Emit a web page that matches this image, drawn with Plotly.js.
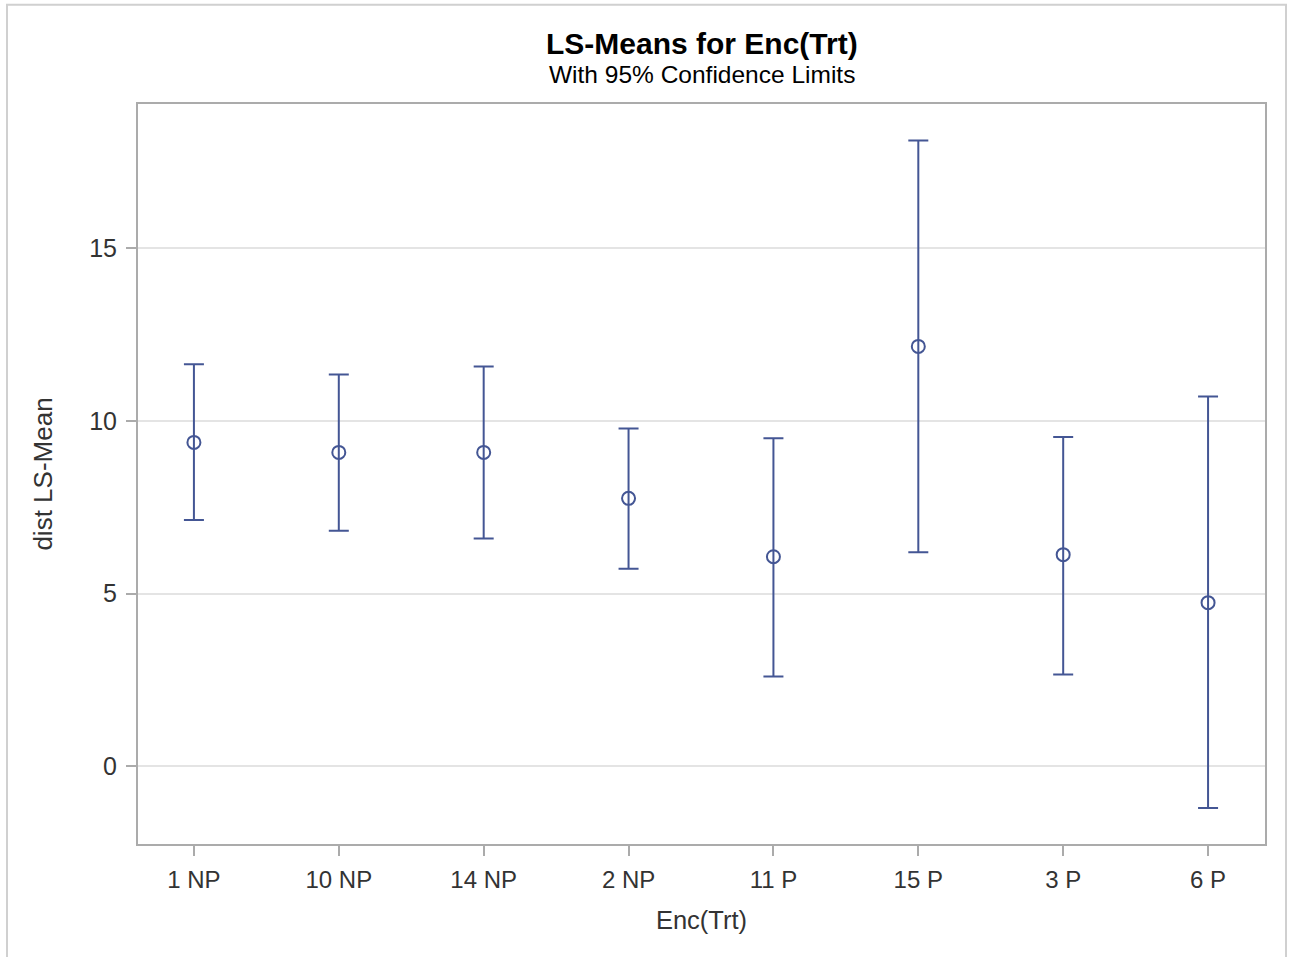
<!DOCTYPE html>
<html>
<head>
<meta charset="utf-8">
<script src="https://cdn.plot.ly/plotly-3.0.1.min.js"></script>
<style>
html, body { margin: 0; padding: 0; background: #fff; }
#chart { width: 1292px; height: 957px; }
</style>
</head>
<body>
<div id="chart"></div>
<script>
// Data
const categories = ["1 NP", "10 NP", "14 NP", "2 NP", "11 P", "15 P", "3 P", "6 P"];
const lsMeans    = [9.38, 9.09, 9.09, 7.76, 6.07, 12.16, 6.13, 4.74];
const upperCL    = [11.64, 11.35, 11.58, 9.78, 9.50, 18.12, 9.54, 10.71];
const lowerCL    = [7.13, 6.82, 6.60, 5.72, 2.60, 6.20, 2.66, -1.21];
const yTickVals  = [0, 5, 10, 15];

const errPlus  = upperCL.map((u, i) => u - lsMeans[i]);
const errMinus = lsMeans.map((m, i) => m - lowerCL[i]);

const lineCol = "#445694";
const axisCol = "#ababab";
const fontFam = "Liberation Sans, Arial, sans-serif";

const trace = {
  type: "scatter",
  mode: "markers",
  x: categories,
  y: lsMeans,
  marker: { symbol: "circle-open", size: 13, color: lineCol, line: { width: 2, color: lineCol } },
  error_y: {
    type: "data",
    symmetric: false,
    array: errPlus,
    arrayminus: errMinus,
    color: lineCol,
    thickness: 2,
    width: 10
  },
  hoverinfo: "x+y"
};

const L = 138, R = 27, T = 103.5, B = 112.5;
const W = 1292, H = 957;
const pw = W - L - R, ph = H - T - B;
const px = v => (v - L) / pw;
const py = v => (H - B - v) / ph;

const layout = {
  width: W, height: H,
  margin: { l: L, r: R, t: T, b: B, pad: 0 },
  paper_bgcolor: "#ffffff",
  plot_bgcolor: "#ffffff",
  showlegend: false,
  font: { family: fontFam, color: "#333333" },
  xaxis: {
    type: "category",
    range: [-0.386, 7.393],
    showline: true, mirror: true, linecolor: axisCol, linewidth: 2,
    ticks: "outside", ticklen: 10, tickwidth: 2, tickcolor: axisCol,
    ticklabelstandoff: 3,
    showgrid: false, zeroline: false,
    tickfont: { size: 24, color: "#333333", family: fontFam },
    title: { text: "Enc(Trt)", font: { size: 25.5, color: "#333333", family: fontFam }, standoff: 19 }
  },
  yaxis: {
    range: [-2.25, 19.18],
    tickvals: yTickVals,
    ticktext: yTickVals.map(String),
    showline: true, mirror: true, linecolor: axisCol, linewidth: 2,
    ticks: "outside", ticklen: 10, tickwidth: 2, tickcolor: axisCol,
    ticklabelstandoff: 4,
    showgrid: true, gridcolor: "#e4e4e4", gridwidth: 2,
    zeroline: false,
    tickfont: { size: 25, color: "#333333", family: fontFam },
    title: { text: "dist LS-Mean", font: { size: 26, color: "#333333", family: fontFam }, standoff: 29 }
  },
  annotations: [
    { text: "<b>LS-Means for Enc(Trt)</b>", xref: "paper", yref: "paper", x: px(702), y: py(43),
      xanchor: "center", yanchor: "middle", showarrow: false,
      font: { size: 30, color: "#000000", family: fontFam } },
    { text: "With 95% Confidence Limits", xref: "paper", yref: "paper", x: px(702), y: py(74),
      xanchor: "center", yanchor: "middle", showarrow: false,
      font: { size: 24.5, color: "#000000", family: fontFam } }
  ],
  shapes: [
    { type: "rect", xref: "paper", yref: "paper", layer: "below",
      x0: px(7), x1: px(1286), y0: py(990), y1: py(4),
      line: { color: "#d0d0d0", width: 2 }, fillcolor: "rgba(0,0,0,0)" }
  ]
};

Plotly.newPlot("chart", [trace], layout, { displayModeBar: false, staticPlot: true });
</script>
</body>
</html>
